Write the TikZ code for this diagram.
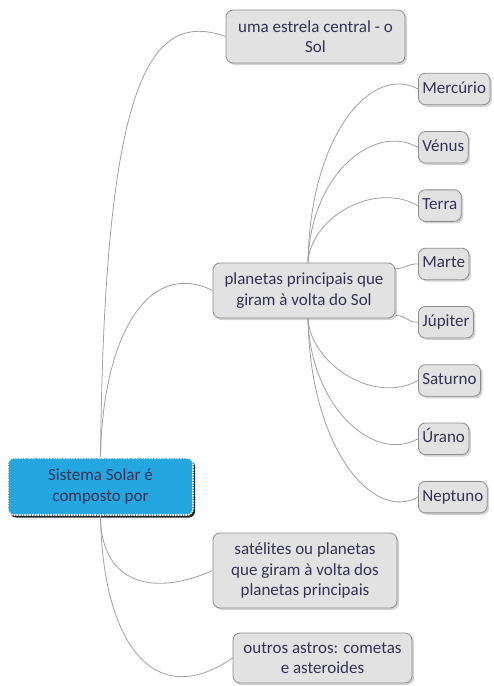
\documentclass[tikz,border=0pt]{standalone}
\usepackage{fontspec}
\setmainfont{Carlito}
\usepackage{xcolor}
\usetikzlibrary{positioning, shadows, calc}
\definecolor{rootblue}{RGB}{36,166,224}
\definecolor{boxgray}{RGB}{226,226,226}
\definecolor{boxline}{RGB}{140,140,140}
\definecolor{inkblue}{RGB}{52,50,86}
\definecolor{linkgray}{RGB}{160,160,160}

\begin{document}
\begin{tikzpicture}[
    x=1pt, y=-1pt,
    node distance=26pt,
    every node/.style={font=\fontsize{17}{20.5}\selectfont, text=inkblue},
    rootbox/.style={rectangle, rounded corners=6pt, fill=rootblue, draw=white, densely dotted, line width=1.6pt, minimum width=185pt, minimum height=57pt, align=center, drop shadow={shadow xshift=2pt, shadow yshift=-2.5pt, opacity=0.85, fill=black}},
    topic/.style={rectangle, rounded corners=7pt, fill=boxgray, draw=boxline, line width=0.8pt, align=center, drop shadow={shadow xshift=2pt, shadow yshift=-2pt, opacity=0.35}},
    planet/.style={topic, minimum height=31.5pt, inner xsep=4pt, text height=12pt, text depth=4pt, anchor=west},
    link/.style={draw=linkgray, line width=0.8pt}
]
\useasboundingbox (0,0) rectangle (494,686);

% central topic and main branches
\node[rootbox] (root) at (100.5,486.5) {Sistema Solar é\\composto por};
\node[topic, minimum width=179pt, minimum height=53pt] (sol) at (315.5,36.5) {uma estrela central - o\\Sol};
\node[topic, minimum width=182pt, minimum height=55pt] (planetas) at (304,290.5) {planetas principais que\\giram à volta do Sol};
\node[topic, minimum width=184pt, minimum height=75pt] (satelites) at (305,570.5) {satélites ou planetas\\que giram à volta dos\\planetas principais};
\node[topic, minimum width=179pt, minimum height=50pt] (outros) at (322.5,658) {outros astros: cometas\\e asteroides};

% planets
\node[planet] (mercurio) at (418,89) {Mercúrio};
\node[planet, below=of mercurio.south west, anchor=north west] (venus) {Vénus};
\node[planet, below=of venus.south west, anchor=north west] (terra) {Terra};
\node[planet, below=of terra.south west, anchor=north west] (marte) {Marte};
\node[planet, below=of marte.south west, anchor=north west] (jupiter) {Júpiter};
\node[planet, below=of jupiter.south west, anchor=north west] (saturno) {Saturno};
\node[planet, below=of saturno.south west, anchor=north west] (urano) {Úrano};
\node[planet, below=of urano.south west, anchor=north west] (neptuno) {Neptuno};

% branches from the root
\draw[link] (root.north) .. controls +(4,-378) and +(-76,-27) .. (sol.west);
\draw[link] (root.north) .. controls +(2,-120) and +(-65,-32) .. (planetas.west);
\draw[link] (root.south) .. controls +(0,65) and +(-63,28) .. (satelites.west);
\draw[link] (root.south) .. controls +(2,125) and +(-80,55) .. (outros.west);

% branches to the planets
\draw[link] ([xshift=4pt]planetas.north) .. controls +(2,-130) and +(-45,-25) .. (mercurio.west);
\draw[link] ([xshift=4pt]planetas.north) .. controls +(2,-87) and +(-45,-25) .. (venus.west);
\draw[link] ([xshift=4pt]planetas.north) .. controls +(2,-44) and +(-45,-25) .. (terra.west);
\draw[link] ([yshift=22pt]planetas.east) .. controls +(12,0) and +(-12,0) .. (marte.west);
\draw[link] ([yshift=-25pt]planetas.east) .. controls +(12,0) and +(-12,0) .. (jupiter.west);
\draw[link] ([xshift=4pt]planetas.south) .. controls +(2,44) and +(-45,25) .. (saturno.west);
\draw[link] ([xshift=4pt]planetas.south) .. controls +(2,87) and +(-45,25) .. (urano.west);
\draw[link] ([xshift=4pt]planetas.south) .. controls +(2,130) and +(-45,25) .. (neptuno.west);

\end{tikzpicture}
\end{document}
